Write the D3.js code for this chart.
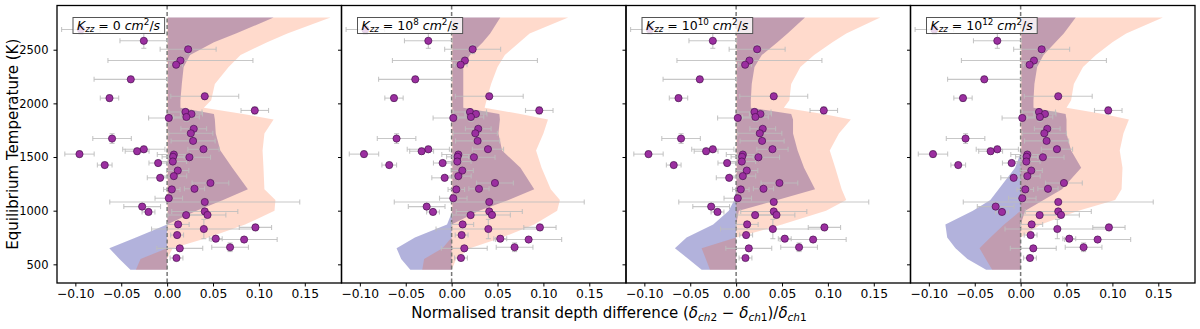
<!DOCTYPE html>
<html>
<head>
<meta charset="utf-8">
<script src="https://cdn.jsdelivr.net/npm/d3@7"></script>
<style>
  body { margin: 0; background: #fff; }
  svg { font-family: "DejaVu Sans", sans-serif; }
</style>
</head>
<body>
<div id="chart"></div>
<script>
// observed planets: normalised depth difference, its error, Teq, its error
const obsDelta = [-0.094, -0.0254, 0.0229, 0.0145, 0.0098, -0.0396, -0.0628, 0.041, 0.0955, 0.020,
  0.0265, 0.021, 0.0018, 0.029, 0.0258, -0.060, 0.0283, -0.0254, -0.0327, 0.0396,
  -0.0955, 0.0073, 0.0065, 0.0243, 0.0062, -0.068, -0.0098, 0.0116, 0.0073, -0.0076,
  0.0472, 0.0298, 0.0051, 0.0018, 0.041, -0.0272, -0.0203, 0.041, 0.044, 0.0207,
  0.012, 0.040, 0.0962, 0.0109, 0.053, 0.0839, 0.0138, 0.0686, 0.0102];
const obsDeltaErr = [0.021, 0.026, 0.0305, 0.079, 0.007, 0.040, 0.010, 0.037, 0.015, 0.018,
  0.012, 0.014, 0.022, 0.014, 0.024, 0.021, 0.024, 0.023, 0.013, 0.017,
  0.016, 0.018, 0.012, 0.023, 0.015, 0.008, 0.010, 0.012, 0.014, 0.014,
  0.020, 0.011, 0.009, 0.015, 0.1035, 0.020, 0.007, 0.036, 0.020, 0.020,
  0.012, 0.057, 0.0176, 0.007, 0.007, 0.036, 0.025, 0.020, 0.007];
const obsTemp = [2689, 2583, 2504, 2399, 2360, 2224, 2049, 2066, 1934, 1920,
  1901, 1873, 1864, 1763, 1721, 1672, 1650, 1572, 1554, 1573,
  1527, 1523, 1502, 1498, 1458, 1425, 1444, 1374, 1322, 1306,
  1258, 1204, 1198, 1116, 1081, 1038, 988, 993, 960, 959,
  872, 829, 844, 773, 739, 731, 649, 659, 559];
const obsTempErr = [40, 70, 40, 25, 25, 30, 30, 30, 35, 30,
  30, 40, 25, 30, 30, 45, 30, 30, 30, 30,
  30, 25, 25, 25, 25, 25, 25, 25, 25, 25,
  25, 25, 25, 25, 25, 25, 25, 25, 25, 25,
  25, 90, 30, 25, 25, 25, 25, 40, 25];

// model bands, one row per panel (Kzz = 0, 1e8, 1e10, 1e12)
const kzzExp = [0, 8, 10, 12];
const bandTemp = [450, 550, 650, 750, 870, 1000, 1100, 1200, 1400, 1560, 1720, 1850, 1900, 1960, 2030, 2180, 2340, 2450, 2570, 2650, 2800];
const blueLo = [
  [-0.040, -0.052, -0.063, -0.034, 0.000, 0.001, 0.001, 0.001, 0.001, 0.001, 0.001, 0.001, 0.001, 0.001, 0.001, 0.001, 0.001, 0.001, 0.001, 0.001, 0.001],
  [-0.045, -0.055, -0.060, -0.040, -0.005, 0.001, 0.001, 0.001, 0.001, 0.001, 0.001, 0.001, 0.001, 0.001, 0.001, 0.001, 0.001, 0.001, 0.001, 0.001, 0.001],
  [-0.0376, -0.052, -0.0667, -0.054, -0.025, -0.008, -0.002, 0.000, 0.001, 0.001, 0.001, 0.001, 0.001, 0.001, 0.001, 0.001, 0.001, 0.001, 0.001, 0.001, 0.001],
  [-0.0376, -0.058, -0.071, -0.080, -0.082, -0.052, -0.033, -0.024, -0.006, 0.001, 0.001, 0.001, 0.001, 0.001, 0.001, 0.001, 0.001, 0.001, 0.001, 0.001, 0.001]
];
const blueHi = [
  [0, 0, 0, 0, 0, 0.032, 0.061, 0.088, 0.071, 0.058, 0.053, 0.052, 0.051, 0.0145, 0.0145, 0.016, 0.018, 0.025, 0.051, 0.075, 0.116],
  [0, 0, 0, 0, 0, 0.030, 0.062, 0.090, 0.075, 0.055, 0.051, 0.0526, 0.052, 0.0127, 0.0127, 0.0127, 0.0127, 0.020, 0.034, 0.042, 0.053],
  [0, 0, 0, 0, 0, 0.003, 0.045, 0.086, 0.074, 0.067, 0.062, 0.062, 0.060, 0.016, 0.016, 0.017, 0.020, 0.028, 0.045, 0.056, 0.075],
  [0, 0, 0, 0, 0, 0.005, 0.025, 0.045, 0.066, 0.055, 0.050, 0.050, 0.049, 0.014, 0.014, 0.015, 0.018, 0.025, 0.038, 0.047, 0.060]
];
const orangeLo = [
  [-0.034, -0.029, 0, 0, 0, 0, 0, 0, 0, 0, 0, 0, 0, 0, 0, 0, 0, 0, 0, 0, 0],
  [-0.032, -0.030, -0.010, 0, 0, 0, 0, 0, 0, 0, 0, 0, 0, 0, 0, 0, 0, 0, 0, 0, 0],
  [-0.0285, -0.033, -0.0376, 0, 0, 0, 0, 0, 0, 0, 0, 0, 0, 0, 0, 0, 0, 0, 0, 0, 0],
  [-0.031, -0.038, -0.0448, -0.033, -0.018, 0, 0, 0, 0, 0, 0, 0, 0, 0, 0, 0, 0, 0, 0, 0, 0]
];
const orangeHi = [
  [0, 0, 0.006, 0.045, 0.085, 0.117, 0.118, 0.106, 0.105, 0.104, 0.106, 0.116, 0.083, 0.040, 0.048, 0.052, 0.067, 0.080, 0.109, 0.131, 0.178],
  [0, 0.005, 0.020, 0.055, 0.090, 0.115, 0.118, 0.108, 0.098, 0.092, 0.100, 0.105, 0.075, 0.036, 0.038, 0.043, 0.050, 0.058, 0.074, 0.085, 0.127],
  [0, 0, 0, 0, 0.050, 0.098, 0.120, 0.115, 0.108, 0.102, 0.112, 0.125, 0.095, 0.052, 0.058, 0.060, 0.070, 0.085, 0.105, 0.120, 0.157],
  [0, 0, 0, 0, 0.022, 0.063, 0.103, 0.110, 0.111, 0.108, 0.112, 0.118, 0.090, 0.050, 0.055, 0.058, 0.068, 0.082, 0.100, 0.115, 0.155]
];

const xTicks = [-0.10, -0.05, 0.00, 0.05, 0.10, 0.15];
const yTicks = [500, 1000, 1500, 2000, 2500];

const width = 1200, height = 329;
const margin = {top: 5.5, right: 5, bottom: 46, left: 57};
const panelW = (width - margin.left - margin.right) / 4;
const plotBottom = height - margin.bottom;

const svg = d3.select("#chart").append("svg")
  .attr("width", width)
  .attr("height", height);

const y = d3.scaleLinear().domain([326, 2912]).range([plotBottom, margin.top]);
const fmt = d3.format(".2f");

// write mathtext-ish pieces: shift -1 = subscript, 1 = superscript
function mathText(sel, parts, size) {
  let cur = 0;
  parts.forEach(p => {
    const shift = p.shift || 0;
    const off = s => s === -1 ? size * 0.22 : s === 1 ? -size * 0.38 : 0;
    sel.append("tspan")
      .attr("dy", off(shift) - off(cur))
      .attr("font-style", p.it ? "italic" : "normal")
      .attr("font-size", shift ? size * 0.7 : size)
      .text(p.t);
    cur = shift;
  });
}

kzzExp.forEach((kexp, p) => {
  const x0 = margin.left + p * panelW;
  const x = d3.scaleLinear().domain([-0.12, 0.19]).range([x0, x0 + panelW]);
  const g = svg.append("g");

  const rows = bandTemp.map((t, i) => ({t, bl: blueLo[p][i], bh: blueHi[p][i], ol: orangeLo[p][i], oh: orangeHi[p][i]}));

  g.append("path")
    .datum(rows)
    .attr("d", d3.area().y(d => y(d.t)).x0(d => x(d.bl)).x1(d => x(d.bh)))
    .attr("fill", "darkblue")
    .attr("fill-opacity", 0.3);

  g.append("path")
    .datum(rows)
    .attr("d", d3.area().y(d => y(d.t)).x0(d => x(d.ol)).x1(d => x(d.oh)))
    .attr("fill", "orangered")
    .attr("fill-opacity", 0.2);

  // zero line
  g.append("line")
    .attr("x1", x(0)).attr("x2", x(0))
    .attr("y1", margin.top).attr("y2", plotBottom)
    .attr("stroke", "#777")
    .attr("stroke-width", 1.5)
    .attr("stroke-dasharray", "4,2.5");

  // error bars
  const eb = g.append("g")
    .attr("stroke", "#bdbdbd")
    .attr("stroke-opacity", 0.85)
    .attr("stroke-width", 1.1);
  obsDelta.forEach((d, i) => {
    const cx = x(d), cy = y(obsTemp[i]);
    const xl = x(d - obsDeltaErr[i]), xr = x(d + obsDeltaErr[i]);
    const yt = y(obsTemp[i] + obsTempErr[i]), yb = y(obsTemp[i] - obsTempErr[i]);
    eb.append("line").attr("x1", xl).attr("x2", xr).attr("y1", cy).attr("y2", cy);
    eb.append("line").attr("x1", cx).attr("x2", cx).attr("y1", yt).attr("y2", yb);
    eb.append("line").attr("x1", xl).attr("x2", xl).attr("y1", cy - 2.5).attr("y2", cy + 2.5);
    eb.append("line").attr("x1", xr).attr("x2", xr).attr("y1", cy - 2.5).attr("y2", cy + 2.5);
    eb.append("line").attr("x1", cx - 2.5).attr("x2", cx + 2.5).attr("y1", yt).attr("y2", yt);
    eb.append("line").attr("x1", cx - 2.5).attr("x2", cx + 2.5).attr("y1", yb).attr("y2", yb);
  });

  g.append("g")
    .selectAll("circle")
    .data(obsDelta)
    .join("circle")
    .attr("cx", d => x(d))
    .attr("cy", (d, i) => y(obsTemp[i]))
    .attr("r", 3.6)
    .attr("fill", "#9b2fa0")
    .attr("stroke", "#4a0f50")
    .attr("stroke-width", 0.7);

  // legend
  const leg = g.append("g");
  const lt = leg.append("text")
    .attr("x", x0 + 20)
    .attr("y", 29.5)
    .attr("fill", "#000");
  const parts = [{t: "K", it: true}, {t: "zz", it: true, shift: -1}];
  if (kexp === 0) {
    parts.push({t: " = 0 "});
  } else {
    parts.push({t: " = 10"}, {t: String(kexp), shift: 1}, {t: " "});
  }
  parts.push({t: "cm", it: true}, {t: "2", shift: 1}, {t: "/"}, {t: "s", it: true});
  mathText(lt, parts, 12.5);
  const bb = lt.node().getBBox();
  leg.insert("rect", "text")
    .attr("x", x0 + 16)
    .attr("y", 17.5)
    .attr("width", bb.width + 8)
    .attr("height", 16)
    .attr("fill", "#fff")
    .attr("fill-opacity", 0.8)
    .attr("stroke", "#555")
    .attr("stroke-width", 1);

  // axes
  const xa = svg.append("g")
    .attr("transform", `translate(0,${plotBottom})`)
    .call(d3.axisBottom(x).tickValues(xTicks).tickFormat(fmt).tickSize(3.5).tickPadding(3));
  xa.select(".domain").remove();
  xa.selectAll("text").attr("font-size", 12.3).attr("font-family", "DejaVu Sans").attr("fill", "#000");
  xa.selectAll("line").attr("stroke", "#000");

  const ya = svg.append("g")
    .attr("transform", `translate(${x0},0)`)
    .call(d3.axisLeft(y).tickValues(yTicks).tickFormat(d3.format("d")).tickSize(3.5).tickPadding(5));
  ya.select(".domain").remove();
  ya.selectAll("line").attr("stroke", "#000");
  if (p === 0) {
    ya.selectAll("text").attr("font-size", 11.5).attr("font-family", "DejaVu Sans").attr("fill", "#000");
  } else {
    ya.selectAll("text").remove();
  }

  svg.append("rect")
    .attr("x", x0).attr("y", margin.top)
    .attr("width", panelW).attr("height", plotBottom - margin.top)
    .attr("fill", "none")
    .attr("stroke", "#000")
    .attr("stroke-width", 1.3);
});

svg.append("text")
  .attr("transform", `translate(13,${(margin.top + plotBottom) / 2}) rotate(-90)`)
  .attr("text-anchor", "middle")
  .attr("dominant-baseline", "central")
  .attr("font-size", 15)
  .text("Equilibrium Temperature (K)");

const xl = svg.append("text")
  .attr("x", 609)
  .attr("y", 318)
  .attr("text-anchor", "middle");
mathText(xl, [
  {t: "Normalised transit depth difference ("},
  {t: "δ", it: true}, {t: "ch", it: true, shift: -1}, {t: "2", shift: -1},
  {t: " − "},
  {t: "δ", it: true}, {t: "ch", it: true, shift: -1}, {t: "1", shift: -1},
  {t: ")/"},
  {t: "δ", it: true}, {t: "ch", it: true, shift: -1}, {t: "1", shift: -1}
], 15);
</script>
</body>
</html>
